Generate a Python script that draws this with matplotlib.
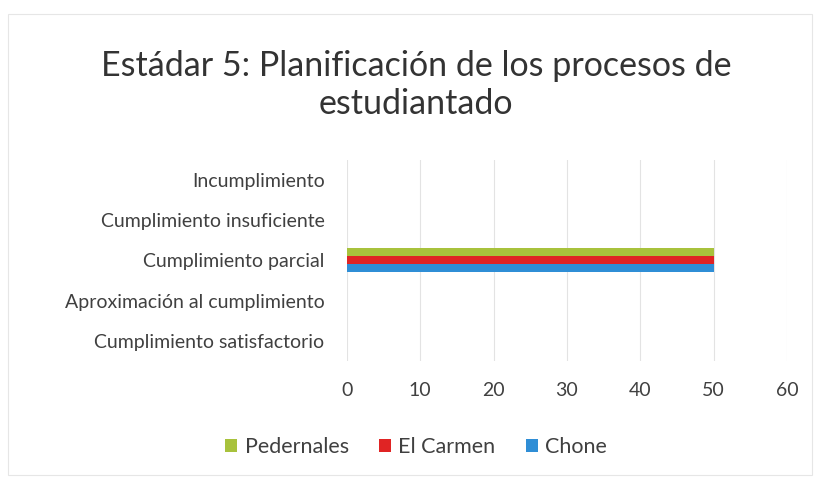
import matplotlib
matplotlib.use("Agg")
import matplotlib.pyplot as plt
import numpy as np
from matplotlib.patches import Rectangle

# categories, bottom to top (Excel order)
categories = [
    "Cumplimiento satisfactorio",
    "Aproximación al cumplimiento",
    "Cumplimiento parcial",
    "Cumplimiento insuficiente",
    "Incumplimiento",
]
series_names = ["Chone", "El Carmen", "Pedernales"]
chone = [0, 0, 50, 0, 0]
el_carmen = [0, 0, 50, 0, 0]
pedernales = [0, 0, 50, 0, 0]
x_ticks = [0, 10, 20, 30, 40, 50, 60]

colors = {"Chone": "#2F8ED6", "El Carmen": "#E02424", "Pedernales": "#A8C23C"}

plt.rcParams["font.family"] = ["Lato", "DejaVu Sans"]

fig = plt.figure(figsize=(8.16, 4.8), dpi=100)
ax = fig.add_axes([0.425, 0.248, 0.5395, 0.419])

y = np.arange(len(categories))
h = 0.2
values = {"Chone": chone, "El Carmen": el_carmen, "Pedernales": pedernales}
for i, name in enumerate(series_names):
    ax.barh(y + (i - 1) * h, values[name], height=h, color=colors[name],
            label=name, zorder=3)

ax.set_xlim(0, 60)
ax.set_ylim(-0.5, len(categories) - 0.5)
ax.set_xticks(x_ticks)
ax.set_yticks(y)
ax.set_yticklabels(categories)
ax.tick_params(axis="both", length=0, labelsize=14, colors="#404040")
ax.tick_params(axis="y", pad=16)
ax.tick_params(axis="x", pad=15)
ax.grid(axis="x", color="#E3E3E3", linewidth=0.8, zorder=0)
for s in ax.spines.values():
    s.set_visible(False)

fig.text(0.51, 0.823, "Estádar 5: Planificación de los procesos de\nestudiantado",
         ha="center", va="center", fontsize=24.5, color="#333333",
         linespacing=1.25)

handles, labels = ax.get_legend_handles_labels()
fig.legend(handles[::-1], labels[::-1], loc="center", bbox_to_anchor=(0.51, 0.068),
           ncol=3, frameon=False, fontsize=15.5, handlelength=0.55, handleheight=0.55,
           handletextpad=0.35, columnspacing=1.4, labelcolor="#404040")

fig.patches.append(Rectangle((0.01, 0.01), 0.985, 0.96, transform=fig.transFigure,
                             fill=False, edgecolor="#E6E6E6", linewidth=0.8))

fig.savefig("out.png", dpi=100)
